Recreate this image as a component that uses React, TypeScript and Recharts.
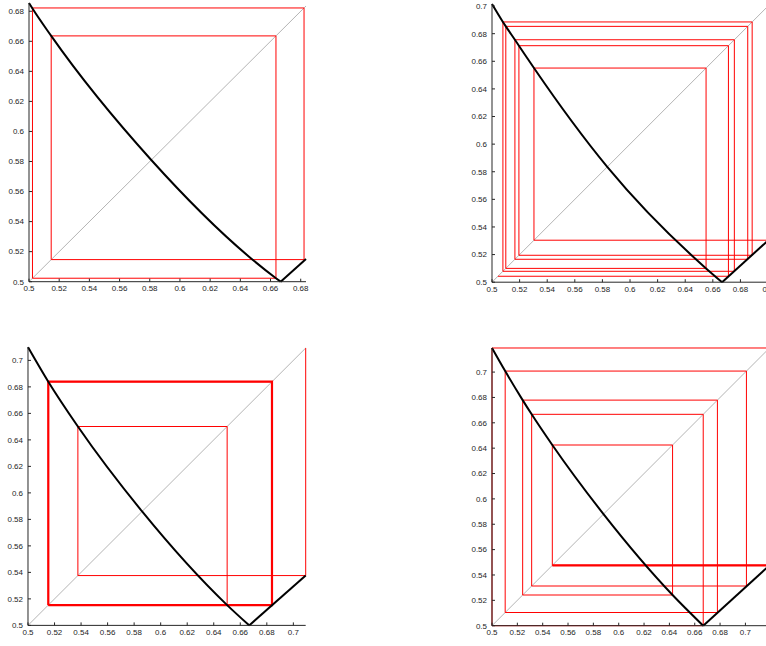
import React from 'react';
import { LineChart, Line, XAxis, YAxis } from 'recharts';

// ---------- Panel 1 (top-left) ----------
const p1XDomain = [0.5, 0.6835];
const p1YDomain = [0.5, 0.6855];
const p1XTicks = [0.5, 0.52, 0.54, 0.56, 0.58, 0.6, 0.62, 0.64, 0.66, 0.68];
const p1YTicks = [0.5, 0.52, 0.54, 0.56, 0.58, 0.6, 0.62, 0.64, 0.66, 0.68];
const p1LeftX = [0.5, 0.5023, 0.5147, 0.581, 0.6636, 0.6667];
const p1LeftY = [0.6855, 0.6818, 0.6636, 0.581, 0.5023, 0.5];
const p1RightX = [0.6667, 0.6835];
const p1RightY = [0.5, 0.5151];
const p1Orbit = [0.5147, 0.6636, 0.5023, 0.6822, 0.5147];

// ---------- Panel 2 (top-right) ----------
const p2XDomain = [0.5, 0.702];
const p2YDomain = [0.5, 0.7015];
const p2XTicks = [0.5, 0.52, 0.54, 0.56, 0.58, 0.6, 0.62, 0.64, 0.66, 0.68, 0.7];
const p2YTicks = [0.5, 0.52, 0.54, 0.56, 0.58, 0.6, 0.62, 0.64, 0.66, 0.68, 0.7];
const p2LeftX = [0.5, 0.5079, 0.51, 0.5166, 0.5195, 0.5304, 0.5835, 0.6551, 0.6667];
const p2LeftY = [0.7015, 0.6885, 0.6853, 0.6756, 0.6713, 0.6551, 0.5835, 0.51, 0.5];
const p2RightX = [0.6667, 0.702];
const p2RightY = [0.5, 0.532];
const p2Orbit = [0.7, 0.5304, 0.6551, 0.51, 0.6853, 0.5166, 0.6756, 0.5079, 0.6885, 0.5195, 0.6713, 0.5043];

// ---------- Panel 3 (bottom-left) ----------
const p3XDomain = [0.5, 0.7093];
const p3YDomain = [0.5, 0.7101];
const p3XTicks = [0.5, 0.52, 0.54, 0.56, 0.58, 0.6, 0.62, 0.64, 0.66, 0.68, 0.7];
const p3YTicks = [0.5, 0.52, 0.54, 0.56, 0.58, 0.6, 0.62, 0.64, 0.66, 0.68, 0.7];
const p3LeftX = [0.5, 0.5153, 0.5376, 0.586, 0.6501, 0.6667];
const p3LeftY = [0.71, 0.6839, 0.6501, 0.586, 0.5153, 0.5];
const p3RightX = [0.6667, 0.7093];
const p3RightY = [0.5, 0.5376];
const p3Orbit = [0.7093, 0.5376, 0.6501, 0.5153, 0.6839, 0.5153];
const p3CycleX = [0.5153, 0.5153, 0.6839, 0.6839, 0.5153];
const p3CycleY = [0.5153, 0.6839, 0.6839, 0.5153, 0.5153];

// ---------- Panel 4 (bottom-right) ----------
const p4XDomain = [0.5, 0.719];
const p4YDomain = [0.5, 0.719];
const p4XTicks = [0.5, 0.52, 0.54, 0.56, 0.58, 0.6, 0.62, 0.64, 0.66, 0.68, 0.7];
const p4YTicks = [0.5, 0.52, 0.54, 0.56, 0.58, 0.6, 0.62, 0.64, 0.66, 0.68, 0.7];
const p4LeftX = [0.5, 0.5104, 0.5242, 0.5313, 0.5476, 0.588, 0.6425, 0.6667];
const p4LeftY = [0.719, 0.7008, 0.6779, 0.6667, 0.6425, 0.588, 0.5242, 0.5];
const p4RightX = [0.6667, 0.719];
const p4RightY = [0.5, 0.5476];
const p4Orbit = [0.5, 0.719, 0.5476, 0.6425, 0.5242, 0.6779, 0.5104, 0.7008, 0.5313, 0.6667, 0.5];
const p4ThickX = [0.719, 0.5476];
const p4ThickY = [0.5476, 0.5476];

type Pt = { x: number; y: number };

const toPts = (xs: number[], ys: number[]): Pt[] => xs.map((x, i) => ({ x, y: ys[i] }));

const cobweb = (orbit: number[]): Pt[] => {
  const pts: Pt[] = [{ x: orbit[0], y: orbit[0] }];
  for (let i = 0; i < orbit.length - 1; i++) {
    pts.push({ x: orbit[i], y: orbit[i + 1] });
    pts.push({ x: orbit[i + 1], y: orbit[i + 1] });
  }
  return pts;
};

const AXIS_COLOR = '#262626';
const FONT = "'Liberation Sans', Arial, Helvetica, sans-serif";
const fmt = (v: number) => String(Number(v.toFixed(2)));

type PanelProps = {
  left: number;
  top: number;
  w: number;
  h: number;
  xDomain: number[];
  yDomain: number[];
  xTicks: number[];
  yTicks: number[];
  leftX: number[];
  leftY: number[];
  rightX: number[];
  rightY: number[];
  orbit: number[];
  extraX?: number[];
  extraY?: number[];
};

function Panel(p: PanelProps) {
  const ML = 40;
  const MT = 6;
  const MR = 14;
  const MB = 24;
  const dEnd = Math.min(p.xDomain[1], p.yDomain[1]);
  const diag = toPts([0.5, dEnd], [0.5, dEnd]);
  return (
    <div style={{ position: 'absolute', left: p.left - ML, top: p.top - MT }}>
      <LineChart
        width={p.w + ML + MR}
        height={p.h + MT + MB}
        margin={{ top: MT, right: MR, bottom: 0, left: 0 }}
      >
        <XAxis
          type="number"
          dataKey="x"
          domain={p.xDomain}
          ticks={p.xTicks}
          interval={0}
          height={MB}
          tickFormatter={fmt}
          tickSize={-3}
          tickMargin={7}
          axisLine={{ stroke: AXIS_COLOR, strokeWidth: 1 }}
          tickLine={{ stroke: AXIS_COLOR, strokeWidth: 1 }}
          tick={{ fontSize: 8, fill: AXIS_COLOR, fontFamily: FONT }}
        />
        <YAxis
          type="number"
          domain={p.yDomain}
          ticks={p.yTicks}
          interval={0}
          width={ML}
          tickFormatter={fmt}
          tickSize={-3}
          tickMargin={8}
          axisLine={{ stroke: AXIS_COLOR, strokeWidth: 1 }}
          tickLine={{ stroke: AXIS_COLOR, strokeWidth: 1 }}
          tick={{ fontSize: 8, fill: AXIS_COLOR, fontFamily: FONT }}
        />
        <Line
          data={diag}
          dataKey="y"
          type="linear"
          stroke="#b4b4b4"
          strokeWidth={1}
          dot={false}
          activeDot={false}
          isAnimationActive={false}
        />
        <Line
          data={cobweb(p.orbit)}
          dataKey="y"
          type="linear"
          stroke="#ff0000"
          strokeWidth={1}
          dot={false}
          activeDot={false}
          isAnimationActive={false}
        />
        {p.extraX && p.extraY ? (
          <Line
            data={toPts(p.extraX, p.extraY)}
            dataKey="y"
            type="linear"
            stroke="#ff0000"
            strokeWidth={2.2}
            dot={false}
            activeDot={false}
            isAnimationActive={false}
          />
        ) : null}
        <Line
          data={toPts(p.leftX, p.leftY)}
          dataKey="y"
          type="monotone"
          stroke="#000000"
          strokeWidth={2}
          dot={false}
          activeDot={false}
          isAnimationActive={false}
        />
        <Line
          data={toPts(p.rightX, p.rightY)}
          dataKey="y"
          type="linear"
          stroke="#000000"
          strokeWidth={2}
          dot={false}
          activeDot={false}
          isAnimationActive={false}
        />
      </LineChart>
    </div>
  );
}

export default function App() {
  return (
    <div
      style={{
        position: 'absolute',
        left: 0,
        top: 0,
        width: 766,
        height: 646,
        overflow: 'hidden',
        background: '#ffffff',
      }}
    >
      <Panel
        left={29}
        top={3}
        w={277}
        h={278.7}
        xDomain={p1XDomain}
        yDomain={p1YDomain}
        xTicks={p1XTicks}
        yTicks={p1YTicks}
        leftX={p1LeftX}
        leftY={p1LeftY}
        rightX={p1RightX}
        rightY={p1RightY}
        orbit={p1Orbit}
      />
      <Panel
        left={492.3}
        top={3.5}
        w={278.8}
        h={278.2}
        xDomain={p2XDomain}
        yDomain={p2YDomain}
        xTicks={p2XTicks}
        yTicks={p2YTicks}
        leftX={p2LeftX}
        leftY={p2LeftY}
        rightX={p2RightX}
        rightY={p2RightY}
        orbit={p2Orbit}
      />
      <Panel
        left={28.3}
        top={347.3}
        w={277.7}
        h={278.4}
        xDomain={p3XDomain}
        yDomain={p3YDomain}
        xTicks={p3XTicks}
        yTicks={p3YTicks}
        leftX={p3LeftX}
        leftY={p3LeftY}
        rightX={p3RightX}
        rightY={p3RightY}
        orbit={p3Orbit}
        extraX={p3CycleX}
        extraY={p3CycleY}
      />
      <Panel
        left={492}
        top={348.3}
        w={277.5}
        h={277.7}
        xDomain={p4XDomain}
        yDomain={p4YDomain}
        xTicks={p4XTicks}
        yTicks={p4YTicks}
        leftX={p4LeftX}
        leftY={p4LeftY}
        rightX={p4RightX}
        rightY={p4RightY}
        orbit={p4Orbit}
        extraX={p4ThickX}
        extraY={p4ThickY}
      />
    </div>
  );
}
